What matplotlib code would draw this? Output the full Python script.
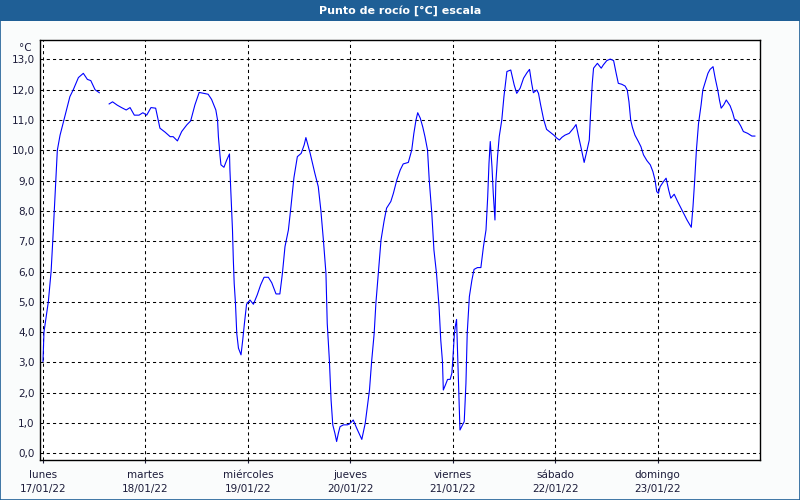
import numpy as np
import matplotlib
matplotlib.use('Agg')
import matplotlib.pyplot as plt
from matplotlib.patches import Rectangle
from matplotlib.ticker import FuncFormatter

# horas desde lunes 00:00 y punto de rocio
horas = [0, 0.23, 1.25, 1.9, 2.3, 2.65, 3.0, 3.36, 4.0, 4.9, 6.3, 7.1, 8.3, 9.45, 10.4, 11.2, 12.2, 13.2,
         14.3,
         15.5, 16.3, 17.4, 18.4, 19.5, 20.4, 21.4, 22.5, 23.4, 24.3, 25.3, 26.4, 27.4, 28.6, 29.8, 30.5,
         31.5, 32.5, 33.7, 34.6, 35.6, 36.6, 37.7, 38.7, 39.5, 40.5, 40.9, 41.1, 41.5, 41.7, 42.4, 43.05,
         43.7, 43.8, 44.1, 44.4, 44.6, 44.8, 45.1, 45.4, 45.8, 46.4, 46.8, 47.2, 47.7, 48.5, 49.3, 50.2,
         51.0, 51.8, 52.8, 53.6, 54.6, 55.5, 56.1, 56.7, 57.5, 58.1, 58.8, 59.6, 60.5, 61.2, 61.6, 62.6,
         63.7, 64.5, 65.1, 65.7, 66.3, 66.6, 67.1, 67.5, 67.9, 68.4, 68.8, 69.2, 69.6, 70.4, 71.3, 71.8,
         72.7, 73.5, 74.7, 75.5, 76.0, 76.5, 77.0, 77.6, 78.0, 78.6, 79.2, 79.9, 80.5, 81.5, 82.1, 82.9,
         83.7, 84.4, 85.6, 86.4, 86.9, 87.4, 87.8, 88.4, 89.0, 89.5, 90.1, 90.5, 91.1, 91.6, 92.2, 92.8,
         93.2, 93.6, 93.8, 94.3, 94.8, 95.4, 95.8, 96.0, 96.4, 96.6, 96.9, 97.2, 97.4, 97.7, 98.1, 98.7,
         99.1, 99.4, 99.9, 100.5, 101.0, 101.8, 102.6, 103.2, 103.8, 104.2, 104.5, 104.8, 105.2, 105.5,
         105.9, 106.1, 106.5, 106.9, 107.5, 108.0, 108.7, 109.6, 110.4, 111.0, 111.8, 112.6, 113.4, 114.0,
         114.5, 114.9, 115.7, 116.1, 116.6, 117.3, 118.0, 119.0, 119.7, 120.4, 121.0, 121.6, 122.3, 123.3,
         124.3, 124.9, 125.5, 126.1, 126.8, 127.4, 128.0, 128.3, 128.7, 129.0, 129.4, 129.9, 130.8, 131.3,
         132.1, 132.9, 133.7, 134.3, 134.8, 135.6, 136.4, 136.9, 137.3, 137.7, 138.1, 138.7, 139.5, 140.1,
         140.7, 141.5, 142.3, 142.9, 143.4, 143.8, 144.2, 144.6, 145.4, 146.0, 146.6, 147.1, 147.9, 148.7,
         149.7, 150.9, 151.9, 152.3, 152.7, 153.1, 153.6, 154.2, 154.6, 155.2, 155.8, 156.3, 157.0, 157.5,
         158.1, 158.5, 158.9, 159.5, 160.1, 161.0, 161.6, 162.0, 162.8, 163.5, 164.1, 165.1, 166.1, 166.8]
rocio = [3.03, 4.0, 5.0, 6.0, 7.04, 8.03, 9.0, 10.0, 10.5, 11.0, 11.77, 12.0, 12.4, 12.54, 12.34, 12.3, 12.0, 11.9,
         np.nan,
         11.53, 11.6, 11.49, 11.41, 11.33, 11.41, 11.16, 11.16, 11.24, 11.16, 11.41, 11.39, 10.73, 10.6, 10.45, 10.45,
         10.31, 10.62, 10.84, 10.97, 11.5, 11.91, 11.88, 11.85, 11.68, 11.33, 11.0, 10.45, 9.79, 9.52, 9.44, 9.68,
         9.88, 9.35, 8.36, 7.37, 6.38, 5.61, 4.95, 3.96, 3.47, 3.25, 3.74, 4.29, 4.92, 5.06, 4.92, 5.23,
         5.56, 5.81, 5.81, 5.63, 5.26, 5.26, 5.94, 6.82, 7.37, 8.14, 9.1, 9.79, 9.9, 10.18, 10.42, 9.9,
         9.24, 8.8, 8.03, 7.04, 5.94, 4.29, 3.08, 1.76, 0.94, 0.66, 0.39, 0.66, 0.88, 0.94, 0.94, 0.97,
         1.1, 0.83, 0.46, 0.99, 1.54, 2.09, 3.03, 3.96, 4.95, 6.0, 7.04, 7.65, 8.09, 8.31, 8.58, 9.02,
         9.35, 9.55, 9.6, 10.01, 10.56, 11.0, 11.24, 11.06, 10.76, 10.45, 10.01, 9.02, 7.92, 6.71, 5.94, 4.84,
         3.74, 3.03, 2.09, 2.26, 2.44, 2.44, 2.64, 3.03, 3.96, 4.18, 4.42, 3.08, 2.09, 0.77, 0.88, 1.05,
         2.31, 3.96, 5.17, 5.72, 6.07, 6.13, 6.13, 6.82, 7.37, 8.47, 9.57, 10.29, 9.46, 8.58,
         7.7, 8.91, 9.79, 10.45, 11.0, 11.77, 12.6, 12.65, 12.16, 11.88, 12.05, 12.38, 12.56, 12.67,
         12.21, 11.9, 11.99, 11.88, 11.5, 11.02, 10.69, 10.58, 10.5, 10.4, 10.34, 10.43, 10.5, 10.56,
         10.73, 10.85, 10.45, 10.07, 9.6, 9.96, 10.34, 11.22, 12.21, 12.71, 12.78, 12.87, 12.71, 12.82,
         12.96, 13.01, 12.96, 12.54, 12.21, 12.18, 12.12, 11.99, 11.6, 11.0, 10.76, 10.5, 10.29, 10.12,
         9.85, 9.66, 9.52, 9.3, 9.02, 8.64, 8.58, 8.8, 8.97, 9.08, 8.69, 8.42, 8.55, 8.31,
         8.03, 7.7, 7.46, 8.14, 9.02, 10.01, 10.89, 11.5, 11.99, 12.27, 12.54, 12.67, 12.76, 12.38,
         11.99, 11.66, 11.39, 11.5, 11.66, 11.47, 11.24, 11.03, 10.97, 10.8, 10.62, 10.56, 10.47, 10.47]

dias = ['lunes', 'martes', 'miércoles', 'jueves', 'viernes', 'sábado', 'domingo']
fechas = ['17/01/22', '18/01/22', '19/01/22', '20/01/22', '21/01/22', '22/01/22', '23/01/22']

texto = '#1c1c3a'
fig = plt.figure(figsize=(8, 5), dpi=100, facecolor='#fafcfc')
ax = fig.add_axes([0.05, 0.08, 0.90, 0.84])

ax.plot(horas, rocio, color='#0000ff', lw=0.8)

ax.set_xlim(-0.7, 168)
ax.set_ylim(-0.22, 13.64)
ax.set_xticks([24 * i for i in range(7)])
ax.set_xticklabels([d + '\n' + f for d, f in zip(dias, fechas)], linespacing=1.5)
ax.set_yticks(range(14))
ax.yaxis.set_major_formatter(FuncFormatter(lambda v, p: ('%.1f' % v).replace('.', ',')))
ax.tick_params(axis='x', length=2, width=0.8, pad=5.5, labelsize=7.5, colors=texto)
ax.tick_params(axis='y', length=0, pad=4, labelsize=7.5, colors=texto)
ax.grid(True, color='black', lw=0.75, linestyle=(0, (3, 3)))
for s in ax.spines.values():
    s.set_linewidth(1.0)
ax.text(-0.011, 0.993, '°C', transform=ax.transAxes, ha='right', va='top',
        fontsize=7.5, color=texto)

# barra del titulo y borde
fig.patches.append(Rectangle((0, 0.958), 1, 0.042, transform=fig.transFigure,
                             facecolor='#1f5f96', edgecolor='none'))
fig.patches.append(Rectangle((0.0006, 0.001), 0.9988, 0.997, transform=fig.transFigure,
                             facecolor='none', edgecolor='#1f5f96', lw=1.2))
fig.text(0.5, 0.979, 'Punto de rocío [°C] escala', ha='center', va='center',
         color='white', fontsize=8, fontweight='bold')

plt.savefig('out.png', dpi=100, facecolor=fig.get_facecolor())
